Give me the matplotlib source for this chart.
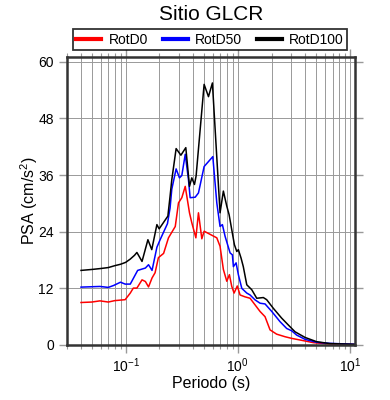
import matplotlib
matplotlib.use("Agg")
import matplotlib.pyplot as plt

plt.rcParams['font.family'] = ['Liberation Sans', 'DejaVu Sans']
plt.rcParams['mathtext.fontset'] = 'custom'
plt.rcParams['mathtext.rm'] = 'Liberation Sans'
plt.rcParams['mathtext.it'] = 'Liberation Sans:italic'

# RotD0 (red)
t_d0 = [0.040, 0.050, 0.059, 0.070, 0.080, 0.099, 0.110, 0.117, 0.126, 0.140,
        0.150, 0.160, 0.172, 0.183, 0.196, 0.218, 0.241, 0.277, 0.296, 0.317,
        0.340, 0.371, 0.389, 0.423, 0.446, 0.478, 0.501, 0.650, 0.695, 0.744,
        0.798, 0.842, 0.884, 0.927, 0.990, 1.048, 1.160, 1.287, 1.426, 1.580,
        1.750, 1.940, 2.220, 2.640, 3.030, 3.590, 4.710, 6.630, 11.0]
psa_d0 = [9.0, 9.1, 9.35, 9.1, 9.4, 9.6, 11.0, 12.05, 12.05, 13.8,
          13.45, 12.3, 14.2, 15.3, 18.5, 19.4, 22.7, 25.1, 30.1, 31.2,
          33.6, 28.0, 25.9, 22.7, 28.0, 22.5, 24.1, 22.7, 20.9, 16.0,
          13.5, 14.9, 12.4, 11.0, 12.5, 10.6, 10.2, 9.9, 8.5, 7.1,
          6.0, 3.2, 2.3, 1.75, 1.4, 1.06, 0.5, 0.2, 0.1]

# RotD50 (blue)
t_d50 = [0.040, 0.059, 0.070, 0.078, 0.090, 0.099, 0.110, 0.128, 0.150, 0.160,
         0.172, 0.190, 0.203, 0.236, 0.249, 0.258, 0.282, 0.302, 0.317, 0.340,
         0.363, 0.376, 0.417, 0.446, 0.501, 0.599, 0.650, 0.695, 0.729, 0.771,
         0.854, 0.895, 0.914, 0.966, 1.012, 1.086, 1.203, 1.287, 1.426, 1.580,
         1.750, 2.010, 2.380, 2.730, 3.030, 3.350, 3.980, 5.050, 6.630, 11.0]
psa_d50 = [12.26, 12.4, 12.2, 12.6, 13.3, 12.9, 12.9, 15.8, 16.3, 17.0,
           15.8, 20.7, 22.3, 25.7, 29.0, 33.0, 37.3, 35.4, 35.9, 40.4,
           35.1, 31.2, 31.3, 32.2, 37.8, 39.9, 30.1, 25.1, 25.5, 23.0,
           19.5, 19.1, 16.6, 17.4, 14.9, 12.0, 11.0, 10.6, 9.56, 8.85,
           8.7, 7.1, 4.95, 3.5, 3.0, 2.1, 1.2, 0.57, 0.35, 0.15]

# RotD100 (black)
t_d100 = [0.040, 0.050, 0.060, 0.070, 0.080, 0.090, 0.100, 0.110, 0.120, 0.126,
          0.140, 0.158, 0.171, 0.190, 0.199, 0.238, 0.249, 0.258, 0.282, 0.311,
          0.344, 0.371, 0.389, 0.411, 0.425, 0.501, 0.548, 0.594, 0.695, 0.744,
          0.798, 0.837, 0.884, 0.933, 0.980, 1.012, 1.070, 1.120, 1.203, 1.333,
          1.476, 1.690, 1.810, 2.070, 2.460, 2.820, 3.240, 3.980, 5.050, 6.630, 11.0]
psa_d100 = [15.8, 16.0, 16.2, 16.4, 16.8, 17.1, 17.5, 18.2, 19.0, 19.6,
            17.7, 22.3, 20.2, 25.5, 24.6, 27.3, 31.5, 35.0, 41.6, 40.2,
            41.8, 33.6, 35.4, 34.0, 35.8, 55.2, 52.6, 55.5, 28.0, 32.6,
            29.4, 27.6, 24.4, 21.25, 19.8, 20.2, 18.4, 16.6, 12.75, 11.7,
            9.9, 10.05, 9.6, 7.8, 5.7, 4.25, 2.8, 1.6, 0.7, 0.3, 0.15]

y_ticks = [0, 12, 24, 36, 48, 60]

fig = plt.figure(figsize=(3.9, 4.0), dpi=100)
ax = fig.add_axes([67/390, 1-345/400, 288/390, 288/400])

ax.plot(t_d0, psa_d0, color='#ff0000', lw=1.1, label='RotD0')
ax.plot(t_d50, psa_d50, color='#0000ff', lw=1.1, label='RotD50')
ax.plot(t_d100, psa_d100, color='black', lw=1.1, label='RotD100')

ax.set_xscale('log')
ax.set_xlim(0.03, 11.1)
ax.set_ylim(0, 61)
ax.set_yticks(y_ticks)

ax.grid(True, which='major', axis='both', color='0.6', lw=0.7)
ax.grid(True, which='minor', axis='x', color='0.6', lw=0.7)
ax.set_axisbelow(True)

for s in ax.spines.values():
    s.set_linewidth(1.8)
    s.set_color('#333333')

ax.tick_params(which='both', direction='out', top=True, right=True,
               color='0.6', labelsize=10)
ax.tick_params(which='major', length=6, width=1)
ax.tick_params(which='minor', length=3, width=0.8)
ax.tick_params(axis='x', pad=2)

ax.set_xlabel('Periodo (s)', fontsize=11.5, labelpad=1)
ax.set_ylabel('PSA (cm/s$^2$)', fontsize=11.5, labelpad=-1)

fig.text(211/390, 1-14/400, 'Sitio GLCR', ha='center', va='center', fontsize=15)

leg = fig.legend(loc='lower left', bbox_to_anchor=(73/390, 1-50/400, 274/390, 22/400),
                 mode='expand', ncol=3, fontsize=10, frameon=True, fancybox=False,
                 borderaxespad=0, handlelength=1.8, handletextpad=0.5,
                 borderpad=0.25, columnspacing=0.8)
leg.get_frame().set_edgecolor('black')
leg.get_frame().set_linewidth(1.3)
for h in leg.get_lines():
    h.set_linewidth(3)

fig.savefig('out.png', dpi=100)
